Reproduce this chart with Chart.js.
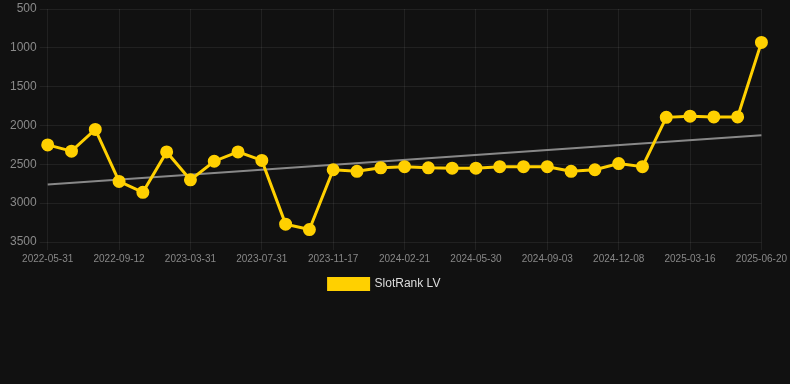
<!DOCTYPE html>
<html>
<head>
<meta charset="utf-8">
<script src="https://cdn.jsdelivr.net/npm/chart.js@4/dist/chart.umd.min.js"></script>
<style>
  html, body { margin: 0; padding: 0; background: #111111; }
  #wrap { width: 790px; height: 384px; }
</style>
</head>
<body>
<div id="wrap"><canvas id="grafico"></canvas></div>
<script>
// fechas del eje x (solo se ve una de cada tres)
let fechas = [
    '2022-05-31', '2022-07-04', '2022-08-08',
    '2022-09-12', '2022-11-20', '2023-01-25',
    '2023-03-31', '2023-05-10', '2023-06-20',
    '2023-07-31', '2023-09-06', '2023-10-12',
    '2023-11-17', '2023-12-20', '2024-01-20',
    '2024-02-21', '2024-03-25', '2024-04-27',
    '2024-05-30', '2024-07-05', '2024-08-01',
    '2024-09-03', '2024-10-05', '2024-11-06',
    '2024-12-08', '2025-01-10', '2025-02-12',
    '2025-03-16', '2025-04-16', '2025-05-19',
    '2025-06-20'
];

let ranking = [
    2250, 2330, 2050,
    2720, 2860, 2340,
    2700, 2460, 2340,
    2450, 3270, 3340,
    2570, 2590, 2545,
    2530, 2545, 2550,
    2550, 2530, 2530,
    2530, 2590, 2570,
    2490, 2530, 1895,
    1880, 1890, 1890,
    930
];

// tendencia: solo inicio y fin, el resto se une con spanGaps
let tendencia = [2760].concat(new Array(29).fill(null), [2125]);

let ticksY = [500, 1000, 1500, 2000, 2500, 3000, 3500];

const amarillo = 'rgb(255, 208, 0)';
const gris = 'rgba(255, 255, 255, 0.07)';

Chart.defaults.font.family = 'Arial, "Liberation Sans", sans-serif';

const ctx = document.getElementById('grafico').getContext('2d');

window.graficoLineas = new Chart(ctx, {
    type: 'line',
    data: {
        labels: fechas,
        datasets: [{
            label: 'SlotRank LV',
            data: ranking,
            borderColor: amarillo,
            backgroundColor: amarillo,
            borderWidth: 3,
            pointRadius: 5,
            pointHoverRadius: 6,
            tension: 0
        }, {
            label: 'tendencia',
            data: tendencia,
            borderColor: 'rgba(150, 150, 150, 0.9)',
            borderWidth: 2,
            pointRadius: 0,
            spanGaps: true
        }]
    },
    options: {
        responsive: true,
        maintainAspectRatio: false,
        animation: false,
        layout: { padding: { top: -2, bottom: 84, right: 28, left: 7 } },
        plugins: {
            legend: {
                position: 'bottom',
                labels: {
                    color: '#dddddd',
                    font: { size: 12 },
                    boxWidth: 40,
                    boxHeight: 11,
                    filter: item => item.datasetIndex === 0
                }
            },
            tooltip: { enabled: false }
        },
        scales: {
            x: {
                grid: {
                    color: c => (c.index % 3 === 0 ? gris : 'transparent'),
                    tickLength: 8
                },
                border: { display: false },
                ticks: {
                    autoSkip: false,
                    maxRotation: 0,
                    color: '#888888',
                    font: { size: 10 },
                    callback: function (v, i) {
                        return i % 3 === 0 ? this.getLabelForValue(v) : '';
                    }
                }
            },
            y: {
                reverse: true,
                min: ticksY[0],
                max: ticksY[ticksY.length - 1],
                afterBuildTicks: axis => {
                    axis.ticks = ticksY.map(v => ({ value: v }));
                },
                grid: { color: gris, tickLength: 8 },
                border: { display: false },
                ticks: {
                    color: '#8a8a8a',
                    font: { size: 12, lineHeight: 0.5 },
                    callback: v => String(v)
                }
            }
        }
    }
});
</script>
</body>
</html>
